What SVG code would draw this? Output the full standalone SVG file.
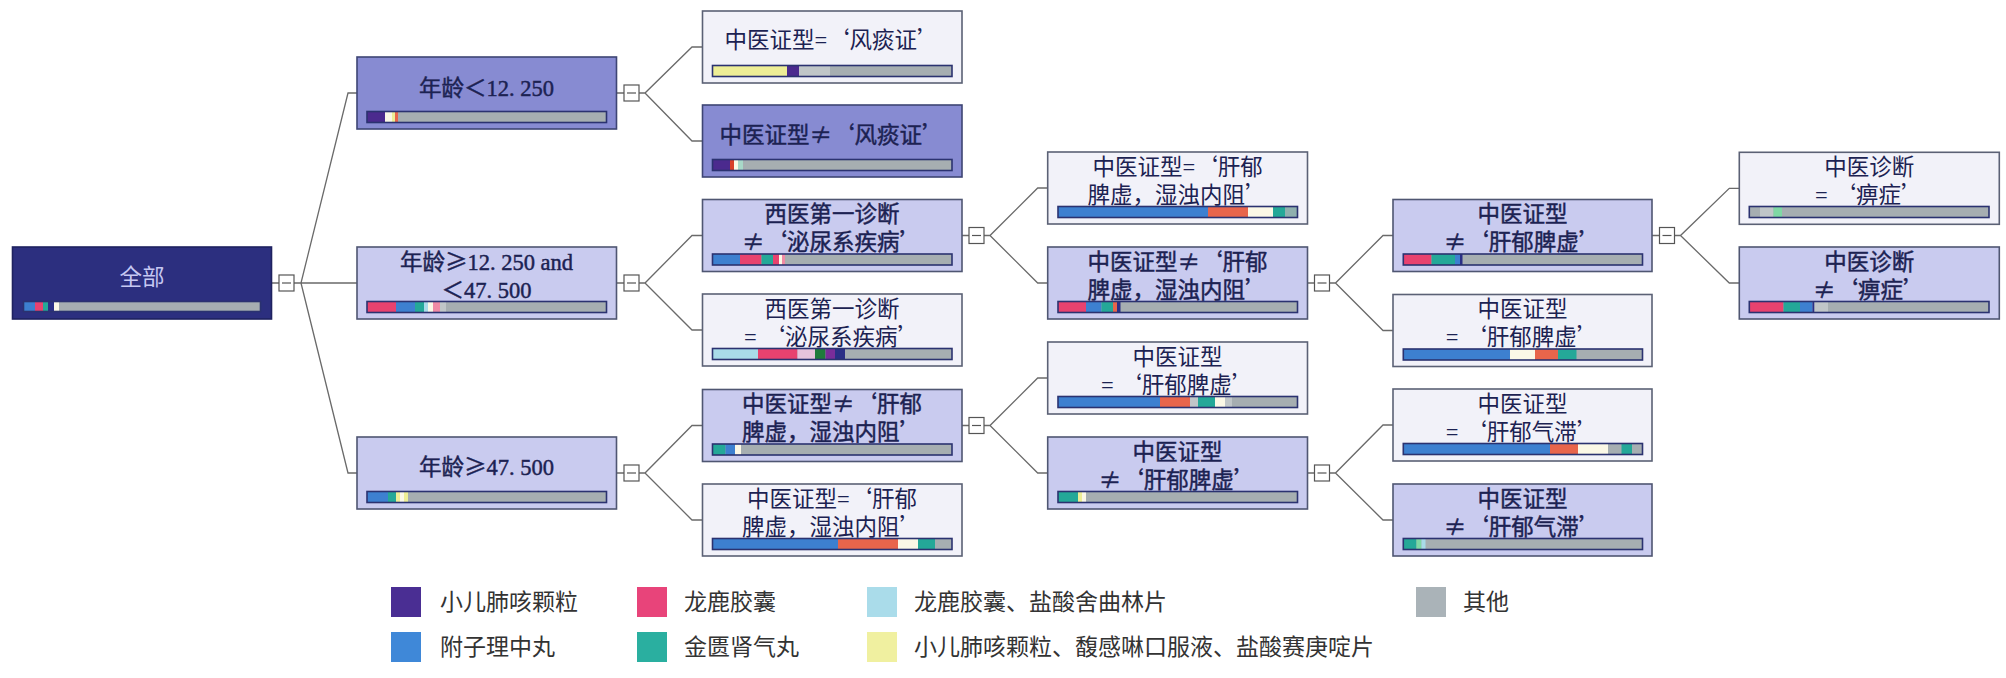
<svg xmlns="http://www.w3.org/2000/svg" width="2006" height="678" viewBox="0 0 2006 678">
<style>
.box{stroke-width:1.6}
.root{fill:#2c2f7f;stroke:#1f2260}
.med{fill:#878bd2;stroke:#3e4574}
.lt{fill:#c9cbef;stroke:#4f5672}
.wt{fill:#f2f2f9;stroke:#5b6175}
.t{font-family:'Liberation Serif','Noto Sans CJK SC',serif;font-size:22.5px;fill:#1c2252;text-anchor:middle}
.b{stroke:#1c2252;stroke-width:0.45}
.c{font-family:'Noto Sans CJK SC',sans-serif}
.rt{fill:#c6c8f2}
.bar{fill:#a6aeb1}
.bo{fill:none;stroke:#2b3270;stroke-width:1.6}
.tg{fill:#fff;stroke:#555;stroke-width:1.2}
.tgl{stroke:#555;stroke-width:1.2}
.conn path{fill:none;stroke:#6a6a6a;stroke-width:1.3}
.lgt{font-family:'Liberation Serif','Noto Sans CJK SC',serif;font-size:23px;fill:#333}
.pu{fill:#4b2a8e}.pk{fill:#e8426f}.lb{fill:#a9dbe9}.bl{fill:#3d80d0}.te{fill:#24a898}.ye{fill:#eeee96}
.co{fill:#e8654b}.cr{fill:#fbf8e6}.nv{fill:#2b2f86}.dg{fill:#1f7a3c}.lp{fill:#e6c3dc}.rd{fill:#d8402a}
.lg2{fill:#c0c6c8}.gn{fill:#7fd8a4}.pp{fill:#7a2d9a}.lpk{fill:#f08aa5}.pt{fill:#a8d8c8}.gt{fill:#8fb0ae}
</style>

<g id="connectors" class="conn">
<path d="M271.5 283H279M294 283H301L348 93H357M301 283H357M301 283L348 473H357"/>
<path d="M616.5 93H624M639 93H645L692 47H702.5M645 93L692 141H702.5"/>
<path d="M616.5 283H624M639 283H645L692 235.5H702.5M645 283L692 330H702.5"/>
<path d="M616.5 473H624M639 473H645L692 425.5H702.5M645 473L692 520H702.5"/>
<path d="M962 235.5H969M984 235.5H990L1037.7 188H1047.7M990 235.5L1037.7 283H1047.7"/>
<path d="M962 425.5H969M984 425.5H990L1037.7 378H1047.7M990 425.5L1037.7 473H1047.7"/>
<path d="M1307.5 283H1314.5M1329.5 283H1335.5L1383 235.5H1393M1335.5 283L1383 330.5H1393"/>
<path d="M1307.5 473H1314.5M1329.5 473H1335.5L1383 425H1393M1335.5 473L1383 520H1393"/>
<path d="M1652 235.5H1659.5M1674.5 235.5H1680.5L1729.3 188.3H1739.3M1680.5 235.5L1729.3 283H1739.3"/>
<g>
<rect class="tg" x="279" y="275" width="15" height="16"/><line class="tgl" x1="282" y1="283" x2="291" y2="283"/>
<rect class="tg" x="624" y="85" width="15" height="16"/><line class="tgl" x1="627" y1="93" x2="636" y2="93"/>
<rect class="tg" x="624" y="275" width="15" height="16"/><line class="tgl" x1="627" y1="283" x2="636" y2="283"/>
<rect class="tg" x="624" y="465" width="15" height="16"/><line class="tgl" x1="627" y1="473" x2="636" y2="473"/>
<rect class="tg" x="969" y="227.5" width="15" height="16"/><line class="tgl" x1="972" y1="235.5" x2="981" y2="235.5"/>
<rect class="tg" x="969" y="417.5" width="15" height="16"/><line class="tgl" x1="972" y1="425.5" x2="981" y2="425.5"/>
<rect class="tg" x="1314.5" y="275" width="15" height="16"/><line class="tgl" x1="1317.5" y1="283" x2="1326.5" y2="283"/>
<rect class="tg" x="1314.5" y="465" width="15" height="16"/><line class="tgl" x1="1317.5" y1="473" x2="1326.5" y2="473"/>
<rect class="tg" x="1659.5" y="227.5" width="15" height="16"/><line class="tgl" x1="1662.5" y1="235.5" x2="1671.5" y2="235.5"/>
</g>
</g>

<g id="root">
<rect class="box root" x="12.5" y="247" width="259" height="72"/>
<text class="t rt" x="142" y="285">全部</text>
<rect class="bar" x="23.5" y="301.5" width="237" height="10"/>
<rect class="bl" x="23.5" y="301.5" width="11.5" height="10"/><rect class="pk" x="35" y="301.5" width="8" height="10"/><rect class="te" x="43" y="301.5" width="5" height="10"/><rect class="nv" x="48" y="301.5" width="6" height="10"/><rect class="cr" x="54" y="301.5" width="5" height="10"/>
<rect class="bo" x="23.5" y="301.5" width="237" height="10"/>
</g>

<g id="n1">
<rect class="box med" x="357" y="57" width="259.5" height="72"/>
<text class="t b" x="486.5" y="96">年龄<tspan class="c">＜</tspan>12. 250</text>
<rect class="bar" x="367" y="111.5" width="239.5" height="11"/>
<rect class="pu" x="367" y="111.5" width="18" height="11"/><rect class="cr" x="385" y="111.5" width="7" height="11"/><rect class="ye" x="392" y="111.5" width="3" height="11"/><rect class="co" x="395" y="111.5" width="3" height="11"/>
<rect class="bo" x="367" y="111.5" width="239.5" height="11"/>
</g>

<g id="n2">
<rect class="box lt" x="357" y="247" width="259.5" height="72"/>
<text class="t b" x="486.5" y="269.5">年龄<tspan class="c">≥</tspan>12. 250  and<tspan x="486.5" y="297.5"><tspan class="c">＜</tspan>47. 500</tspan></text>
<rect class="bar" x="367" y="301.5" width="239.5" height="11"/>
<rect class="pk" x="367" y="301.5" width="29" height="11"/><rect class="bl" x="396" y="301.5" width="19" height="11"/><rect class="te" x="415" y="301.5" width="9" height="11"/><rect class="lb" x="424" y="301.5" width="4" height="11"/><rect class="cr" x="428" y="301.5" width="5" height="11"/><rect class="lpk" x="433" y="301.5" width="7" height="11"/><rect class="lg2" x="440" y="301.5" width="6" height="11"/>
<rect class="bo" x="367" y="301.5" width="239.5" height="11"/>
</g>

<g id="n3">
<rect class="box lt" x="357" y="437" width="259.5" height="72"/>
<text class="t b" x="486.5" y="475">年龄<tspan class="c">≥</tspan>47. 500</text>
<rect class="bar" x="367" y="491.5" width="239.5" height="11"/>
<rect class="bl" x="367" y="491.5" width="21" height="11"/><rect class="te" x="388" y="491.5" width="8" height="11"/><rect class="ye" x="396" y="491.5" width="4" height="11"/><rect class="cr" x="400" y="491.5" width="4" height="11"/><rect class="ye" x="404" y="491.5" width="4" height="11"/>
<rect class="bo" x="367" y="491.5" width="239.5" height="11"/>
</g>

<g id="n1a">
<rect class="box wt" x="702.5" y="11" width="259.5" height="72"/>
<text class="t" x="832" y="48">中医证型=<tspan class="c">‘</tspan>风痰证<tspan class="c">’</tspan></text>
<rect class="bar" x="712.5" y="65.5" width="239.5" height="11"/>
<rect class="ye" x="712.5" y="65.5" width="74.5" height="11"/><rect class="pu" x="787" y="65.5" width="12" height="11"/><rect class="lg2" x="799" y="65.5" width="31" height="11"/>
<rect class="bo" x="712.5" y="65.5" width="239.5" height="11"/>
</g>

<g id="n1b">
<rect class="box med" x="702.5" y="105" width="259.5" height="72"/>
<text class="t b" x="832" y="143">中医证型<tspan class="c">≠‘</tspan>风痰证<tspan class="c">’</tspan></text>
<rect class="bar" x="712.5" y="159.5" width="239.5" height="11"/>
<rect class="pu" x="712.5" y="159.5" width="17.5" height="11"/><rect class="rd" x="730" y="159.5" width="4" height="11"/><rect class="cr" x="734" y="159.5" width="4" height="11"/><rect class="pt" x="738" y="159.5" width="5" height="11"/>
<rect class="bo" x="712.5" y="159.5" width="239.5" height="11"/>
</g>

<g id="n2a">
<rect class="box lt" x="702.5" y="199.5" width="259.5" height="72"/>
<text class="t b" x="832" y="222">西医第一诊断<tspan x="832" y="250"><tspan class="c">≠‘</tspan>泌尿系疾病<tspan class="c">’</tspan></tspan></text>
<rect class="bar" x="712.5" y="254" width="239.5" height="11"/>
<rect class="bl" x="712.5" y="254" width="27.5" height="11"/><rect class="pk" x="740" y="254" width="21.5" height="11"/><rect class="te" x="761.5" y="254" width="11.5" height="11"/><rect class="pk" x="773" y="254" width="6" height="11"/><rect class="cr" x="779" y="254" width="3" height="11"/><rect class="lpk" x="782" y="254" width="3" height="11"/>
<rect class="bo" x="712.5" y="254" width="239.5" height="11"/>
</g>

<g id="n2b">
<rect class="box wt" x="702.5" y="294" width="259.5" height="72"/>
<text class="t" x="832" y="316.5">西医第一诊断<tspan x="832" y="344.5">= <tspan class="c">‘</tspan>泌尿系疾病<tspan class="c">’</tspan></tspan></text>
<rect class="bar" x="712.5" y="348.5" width="239.5" height="11"/>
<rect class="lb" x="712.5" y="348.5" width="45.5" height="11"/><rect class="pk" x="758" y="348.5" width="39.5" height="11"/><rect class="lp" x="797.5" y="348.5" width="17.5" height="11"/><rect class="dg" x="815" y="348.5" width="10.5" height="11"/><rect class="pp" x="825.5" y="348.5" width="9.5" height="11"/><rect class="nv" x="835" y="348.5" width="10" height="11"/>
<rect class="bo" x="712.5" y="348.5" width="239.5" height="11"/>
</g>

<g id="n3a">
<rect class="box lt" x="702.5" y="389.5" width="259.5" height="72"/>
<text class="t b" x="832" y="412">中医证型<tspan class="c">≠‘</tspan>肝郁<tspan x="832" y="440">脾虚，湿浊内阻<tspan class="c">’</tspan></tspan></text>
<rect class="bar" x="712.5" y="444" width="239.5" height="11"/>
<rect class="te" x="712.5" y="444" width="13" height="11"/><rect class="bl" x="725.5" y="444" width="9.5" height="11"/><rect class="cr" x="735" y="444" width="6" height="11"/>
<rect class="bo" x="712.5" y="444" width="239.5" height="11"/>
</g>

<g id="n3b">
<rect class="box wt" x="702.5" y="484" width="259.5" height="72"/>
<text class="t" x="832" y="506.5">中医证型=<tspan class="c">‘</tspan>肝郁<tspan x="832" y="534.5">脾虚，湿浊内阻<tspan class="c">’</tspan></tspan></text>
<rect class="bar" x="712.5" y="538.5" width="239.5" height="11"/>
<rect class="bl" x="712.5" y="538.5" width="125.5" height="11"/><rect class="co" x="838" y="538.5" width="60" height="11"/><rect class="cr" x="898" y="538.5" width="20" height="11"/><rect class="te" x="918" y="538.5" width="17" height="11"/>
<rect class="bo" x="712.5" y="538.5" width="239.5" height="11"/>
</g>

<g id="n2a1">
<rect class="box wt" x="1047.7" y="152" width="259.8" height="72"/>
<text class="t" x="1177.6" y="174.5">中医证型=<tspan class="c">‘</tspan>肝郁<tspan x="1177.6" y="202.5">脾虚，湿浊内阻<tspan class="c">’</tspan></tspan></text>
<rect class="bar" x="1058" y="206.5" width="239.5" height="11"/>
<rect class="bl" x="1058" y="206.5" width="150" height="11"/><rect class="co" x="1208" y="206.5" width="40" height="11"/><rect class="cr" x="1248" y="206.5" width="25" height="11"/><rect class="te" x="1273" y="206.5" width="12" height="11"/><rect class="gt" x="1285" y="206.5" width="12.5" height="11"/>
<rect class="bo" x="1058" y="206.5" width="239.5" height="11"/>
</g>

<g id="n2a2">
<rect class="box lt" x="1047.7" y="247" width="259.8" height="72"/>
<text class="t b" x="1177.6" y="269.5">中医证型<tspan class="c">≠‘</tspan>肝郁<tspan x="1177.6" y="297.5">脾虚，湿浊内阻<tspan class="c">’</tspan></tspan></text>
<rect class="bar" x="1058" y="301.5" width="239.5" height="11"/>
<rect class="pk" x="1058" y="301.5" width="28" height="11"/><rect class="bl" x="1086" y="301.5" width="15.5" height="11"/><rect class="te" x="1101.5" y="301.5" width="11.5" height="11"/><rect class="co" x="1113" y="301.5" width="4" height="11"/><rect class="nv" x="1117" y="301.5" width="3.5" height="11"/>
<rect class="bo" x="1058" y="301.5" width="239.5" height="11"/>
</g>

<g id="n3a1">
<rect class="box wt" x="1047.7" y="342" width="259.8" height="72"/>
<text class="t" x="1177.6" y="364.5">中医证型<tspan x="1177.6" y="392.5">= <tspan class="c">‘</tspan>肝郁脾虚<tspan class="c">’</tspan></tspan></text>
<rect class="bar" x="1058" y="396.5" width="239.5" height="11"/>
<rect class="bl" x="1058" y="396.5" width="102" height="11"/><rect class="co" x="1160" y="396.5" width="30" height="11"/><rect class="lg2" x="1190" y="396.5" width="8" height="11"/><rect class="te" x="1198" y="396.5" width="17" height="11"/><rect class="cr" x="1215" y="396.5" width="10" height="11"/><rect class="lg2" x="1225" y="396.5" width="7" height="11"/>
<rect class="bo" x="1058" y="396.5" width="239.5" height="11"/>
</g>

<g id="n3a2">
<rect class="box lt" x="1047.7" y="437" width="259.8" height="72"/>
<text class="t b" x="1177.6" y="459.5">中医证型<tspan x="1177.6" y="487.5"><tspan class="c">≠‘</tspan>肝郁脾虚<tspan class="c">’</tspan></tspan></text>
<rect class="bar" x="1058" y="491.5" width="239.5" height="11"/>
<rect class="te" x="1058" y="491.5" width="20" height="11"/><rect class="ye" x="1078" y="491.5" width="4" height="11"/><rect class="cr" x="1082" y="491.5" width="4" height="11"/>
<rect class="bo" x="1058" y="491.5" width="239.5" height="11"/>
</g>

<g id="n2a2a">
<rect class="box lt" x="1393" y="199.5" width="259" height="72"/>
<text class="t b" x="1522.5" y="222">中医证型<tspan x="1522.5" y="250"><tspan class="c">≠‘</tspan>肝郁脾虚<tspan class="c">’</tspan></tspan></text>
<rect class="bar" x="1403.3" y="254" width="239.2" height="11"/>
<rect class="pk" x="1403.3" y="254" width="28.2" height="11"/><rect class="te" x="1431.5" y="254" width="23.5" height="11"/><rect class="bl" x="1455" y="254" width="5" height="11"/><rect class="nv" x="1460" y="254" width="2.5" height="11"/>
<rect class="bo" x="1403.3" y="254" width="239.2" height="11"/>
</g>

<g id="n2a2b">
<rect class="box wt" x="1393" y="294.5" width="259" height="72"/>
<text class="t" x="1522.5" y="317">中医证型<tspan x="1522.5" y="345">= <tspan class="c">‘</tspan>肝郁脾虚<tspan class="c">’</tspan></tspan></text>
<rect class="bar" x="1403.3" y="349" width="239.2" height="11"/>
<rect class="bl" x="1403.3" y="349" width="106.7" height="11"/><rect class="cr" x="1510" y="349" width="25" height="11"/><rect class="co" x="1535" y="349" width="23" height="11"/><rect class="te" x="1558" y="349" width="18.5" height="11"/>
<rect class="bo" x="1403.3" y="349" width="239.2" height="11"/>
</g>

<g id="n3a2a">
<rect class="box wt" x="1393" y="389" width="259" height="72"/>
<text class="t" x="1522.5" y="411.5">中医证型<tspan x="1522.5" y="439.5">= <tspan class="c">‘</tspan>肝郁气滞<tspan class="c">’</tspan></tspan></text>
<rect class="bar" x="1403.3" y="443.5" width="239.2" height="11"/>
<rect class="bl" x="1403.3" y="443.5" width="146.7" height="11"/><rect class="co" x="1550" y="443.5" width="28" height="11"/><rect class="cr" x="1578" y="443.5" width="30" height="11"/><rect class="te" x="1621.5" y="443.5" width="10.5" height="11"/>
<rect class="bo" x="1403.3" y="443.5" width="239.2" height="11"/>
</g>

<g id="n3a2b">
<rect class="box lt" x="1393" y="484" width="259" height="72"/>
<text class="t b" x="1522.5" y="506.5">中医证型<tspan x="1522.5" y="534.5"><tspan class="c">≠‘</tspan>肝郁气滞<tspan class="c">’</tspan></tspan></text>
<rect class="bar" x="1403.3" y="538.5" width="239.2" height="11"/>
<rect class="te" x="1403.3" y="538.5" width="13.2" height="11"/><rect class="gn" x="1416.5" y="538.5" width="5" height="11"/><rect class="lb" x="1421.5" y="538.5" width="4" height="11"/>
<rect class="bo" x="1403.3" y="538.5" width="239.2" height="11"/>
</g>

<g id="n2a2a1">
<rect class="box wt" x="1739.3" y="152.3" width="260" height="72"/>
<text class="t" x="1869.3" y="175">中医诊断<tspan x="1869.3" y="203">= <tspan class="c">‘</tspan>痹症<tspan class="c">’</tspan></tspan></text>
<rect class="bar" x="1749.3" y="206.5" width="239.7" height="11"/>
<rect class="lg2" x="1760" y="206.5" width="13.5" height="11"/><rect class="gn" x="1773.5" y="206.5" width="8.5" height="11"/>
<rect class="bo" x="1749.3" y="206.5" width="239.7" height="11"/>
</g>

<g id="n2a2a2">
<rect class="box lt" x="1739.3" y="247" width="260" height="72"/>
<text class="t b" x="1869.3" y="269.5">中医诊断<tspan x="1869.3" y="297.5"><tspan class="c">≠‘</tspan>痹症<tspan class="c">’</tspan></tspan></text>
<rect class="bar" x="1749.3" y="301.5" width="239.7" height="11"/>
<rect class="pk" x="1749.3" y="301.5" width="34.2" height="11"/><rect class="te" x="1783.5" y="301.5" width="16.5" height="11"/><rect class="bl" x="1800" y="301.5" width="12.5" height="11"/><rect class="nv" x="1812.5" y="301.5" width="2" height="11"/><rect class="lg2" x="1814.5" y="301.5" width="13.5" height="11"/>
<rect class="bo" x="1749.3" y="301.5" width="239.7" height="11"/>
</g>

<g id="legend">
<rect x="391" y="587" width="30" height="30" fill="#4a2e93"/>
<text class="lgt" x="440" y="610">小儿肺咳颗粒</text>
<rect x="637" y="587" width="30" height="30" fill="#e8447a"/>
<text class="lgt" x="684" y="610">龙鹿胶囊</text>
<rect x="867" y="587" width="30" height="30" fill="#aadcea"/>
<text class="lgt" x="914" y="610">龙鹿胶囊、盐酸舍曲林片</text>
<rect x="1416" y="587" width="30" height="30" fill="#aab3b8"/>
<text class="lgt" x="1463" y="610">其他</text>
<rect x="391" y="632" width="30" height="30" fill="#3f88d8"/>
<text class="lgt" x="440" y="655">附子理中丸</text>
<rect x="637" y="632" width="30" height="30" fill="#2aafa0"/>
<text class="lgt" x="684" y="655">金匮肾气丸</text>
<rect x="867" y="632" width="30" height="30" fill="#f0f0a0"/>
<text class="lgt" x="914" y="655">小儿肺咳颗粒、馥感啉口服液、盐酸赛庚啶片</text>
</g>
</svg>
